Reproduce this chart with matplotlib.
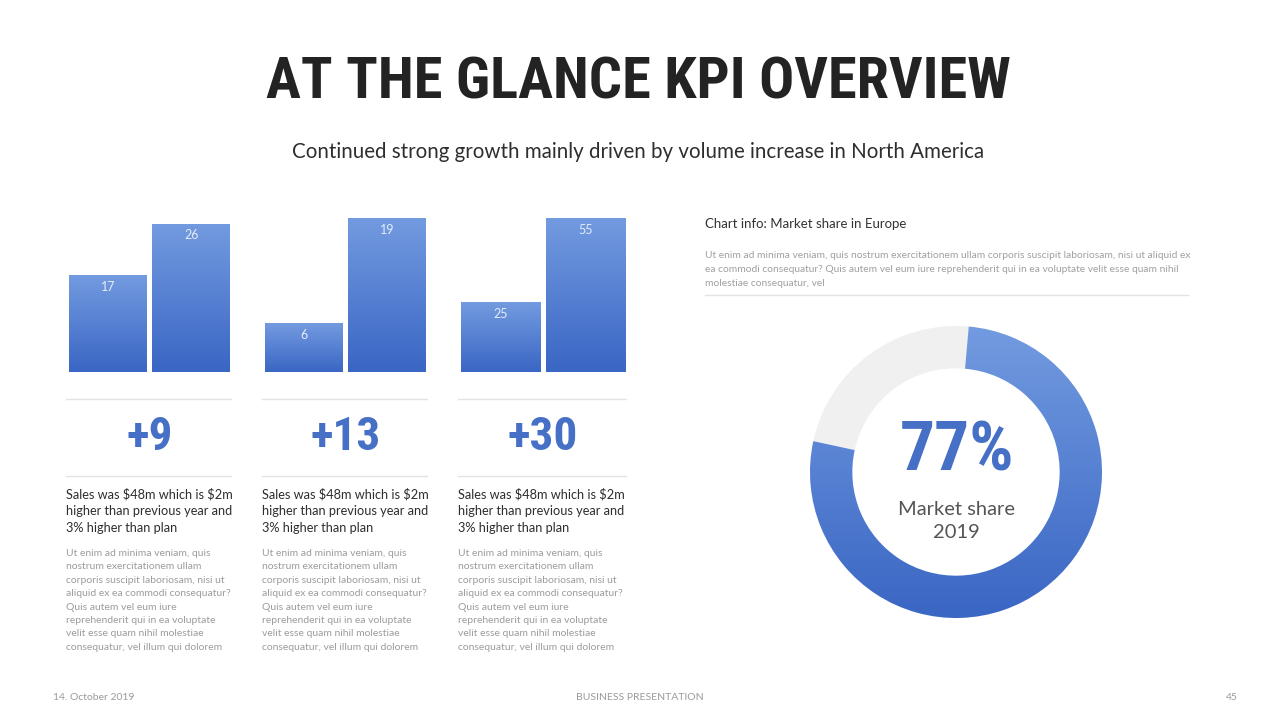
import numpy as np
import matplotlib
matplotlib.use("Agg")
import matplotlib.pyplot as plt
from matplotlib.colors import LinearSegmentedColormap
from matplotlib.lines import Line2D
from matplotlib import font_manager

W, H = 1280, 720

# data
groups = ["Group 1", "Group 2", "Group 3"]
prev_values = [17, 6, 25]
curr_values = [26, 19, 55]
deltas = ["+9", "+13", "+30"]
ylim_tops = [27, 19, 55]
market_share = [77, 23]
share_label = "77%"

sales_text = "Sales was \\$48m which is \\$2m\nhigher than previous year and\n3% higher than plan"
lorem_col = ("Ut enim ad minima veniam, quis\nnostrum exercitationem ullam\n"
             "corporis suscipit laboriosam, nisi ut\naliquid ex ea commodi consequatur?\n"
             "Quis autem vel eum iure\nreprehenderit qui in ea voluptate\n"
             "velit esse quam nihil molestiae\nconsequatur, vel illum qui dolorem")
lorem_info = ("Ut enim ad minima veniam, quis nostrum exercitationem ullam corporis suscipit laboriosam, nisi ut aliquid ex\n"
              "ea commodi consequatur? Quis autem vel eum iure reprehenderit qui in ea voluptate velit esse quam nihil\n"
              "molestiae consequatur, vel")

names = {f.name for f in font_manager.fontManager.ttflist}
cond = [n for n in ["Roboto Condensed", "DejaVu Sans Condensed", "Liberation Sans Narrow"] if n in names]
cond_font = cond + ["DejaVu Sans"]
body_font = ["Lato", "DejaVu Sans"]

blue_top = "#739be0"
blue_bot = "#3a66c4"
blue_txt = "#4670c6"
grad_cmap = LinearSegmentedColormap.from_list("blue_grad", [blue_top, blue_bot])


def fx(x):
    return x / W


def fy(y):
    return 1 - y / H


def grad_fill(ax, patch, extent):
    g = np.linspace(0, 1, 256).reshape(-1, 1)
    im = ax.imshow(g, extent=extent, origin="upper", cmap=grad_cmap,
                   aspect="auto", zorder=1)
    im.set_clip_path(patch)
    patch.set_facecolor("none")
    patch.set_edgecolor("none")


fig = plt.figure(figsize=(12.8, 7.2), dpi=100)
fig.patch.set_facecolor("white")

# title + subtitle
fig.text(fx(638), fy(83), "AT THE GLANCE KPI OVERVIEW", ha="center", va="center",
         fontsize=42, fontweight="bold", family=cond_font, color="#232323")
fig.text(fx(638), fy(152), "Continued strong growth mainly driven by volume increase in North America",
         ha="center", va="center", fontsize=14.8, family=body_font, color="#2e2e2e")

# bar groups
lefts = [69, 265, 461]
widths = [161, 161, 164]
for i in range(3):
    ax = fig.add_axes([fx(lefts[i]), fy(372), widths[i] / W, 154 / H])
    bars = ax.bar([0, 1], [prev_values[i], curr_values[i]], width=0.93)
    for b in bars:
        x0, h = b.get_x(), b.get_height()
        grad_fill(ax, b, [x0, x0 + b.get_width(), 0, h])
        ax.text(x0 + b.get_width() / 2, h - ylim_tops[i] * 0.075, str(int(h)),
                ha="center", va="center", fontsize=9, family=body_font, color="#e4ecfa", zorder=3)
    ax.set_xlim(-0.465, 1.465)
    ax.set_ylim(0, ylim_tops[i])
    ax.axis("off")

    cx = lefts[i] + widths[i] / 2
    x0, x1 = lefts[i] - 3, lefts[i] + widths[i] + 1
    fig.add_artist(Line2D([fx(x0), fx(x1)], [fy(399)] * 2, color="#e3e3e3", lw=1))
    fig.add_artist(Line2D([fx(x0), fx(x1)], [fy(476)] * 2, color="#e3e3e3", lw=1))
    fig.text(fx(cx), fy(437), deltas[i], ha="center", va="center", fontsize=34,
             fontweight="bold", family=cond_font, color=blue_txt)
    fig.text(fx(x0), fy(487.5), sales_text, ha="left", va="top", fontsize=9.2,
             family=body_font, color="#2e2e2e", linespacing=1.5)
    fig.text(fx(x0), fy(549), lorem_col, ha="left", va="top", fontsize=7.5,
             family=body_font, color="#9c9c9c", linespacing=1.63)

# chart info
fig.text(fx(705), fy(224), "Chart info: Market share in Europe", ha="left", va="center",
         fontsize=9.5, family=body_font, color="#333333")
fig.text(fx(705), fy(251.5), lorem_info, ha="left", va="top", fontsize=7.35,
         family=body_font, color="#a0a0a0", linespacing=1.66)
fig.add_artist(Line2D([fx(705), fx(1188)], [fy(295)] * 2, color="#e3e3e3", lw=1))

# donut
r = 146
dax = fig.add_axes([fx(956 - r), fy(472 + r), 2 * r / W, 2 * r / H])
wedges, _ = dax.pie(market_share, startangle=85, counterclock=False, radius=1,
                    colors=["#4a74cc", "#f0f0f0"], wedgeprops=dict(width=0.29))
grad_fill(dax, wedges[0], [-1, 1, -1, 1])
dax.set_xlim(-1, 1)
dax.set_ylim(-1, 1)
dax.set_aspect("auto")
dax.axis("off")

fig.text(fx(957), fy(452), share_label, ha="center", va="center", fontsize=50,
         fontweight="bold", family=cond_font, color=blue_txt)
fig.text(fx(956), fy(521), "Market share\n2019", ha="center", va="center", fontsize=14.5,
         family=body_font, color="#555555", linespacing=1.45)

# footer
fig.text(fx(53), fy(697), "14. October 2019", ha="left", va="center", fontsize=7.5,
         family=body_font, color="#9a9a9a")
fig.text(fx(640), fy(697), "BUSINESS PRESENTATION", ha="center", va="center", fontsize=7.5,
         family=body_font, color="#9a9a9a")
fig.text(fx(1238), fy(697), "45", ha="right", va="center", fontsize=7.5,
         family=body_font, color="#9a9a9a")

fig.savefig("out.png", dpi=100, facecolor="white")
